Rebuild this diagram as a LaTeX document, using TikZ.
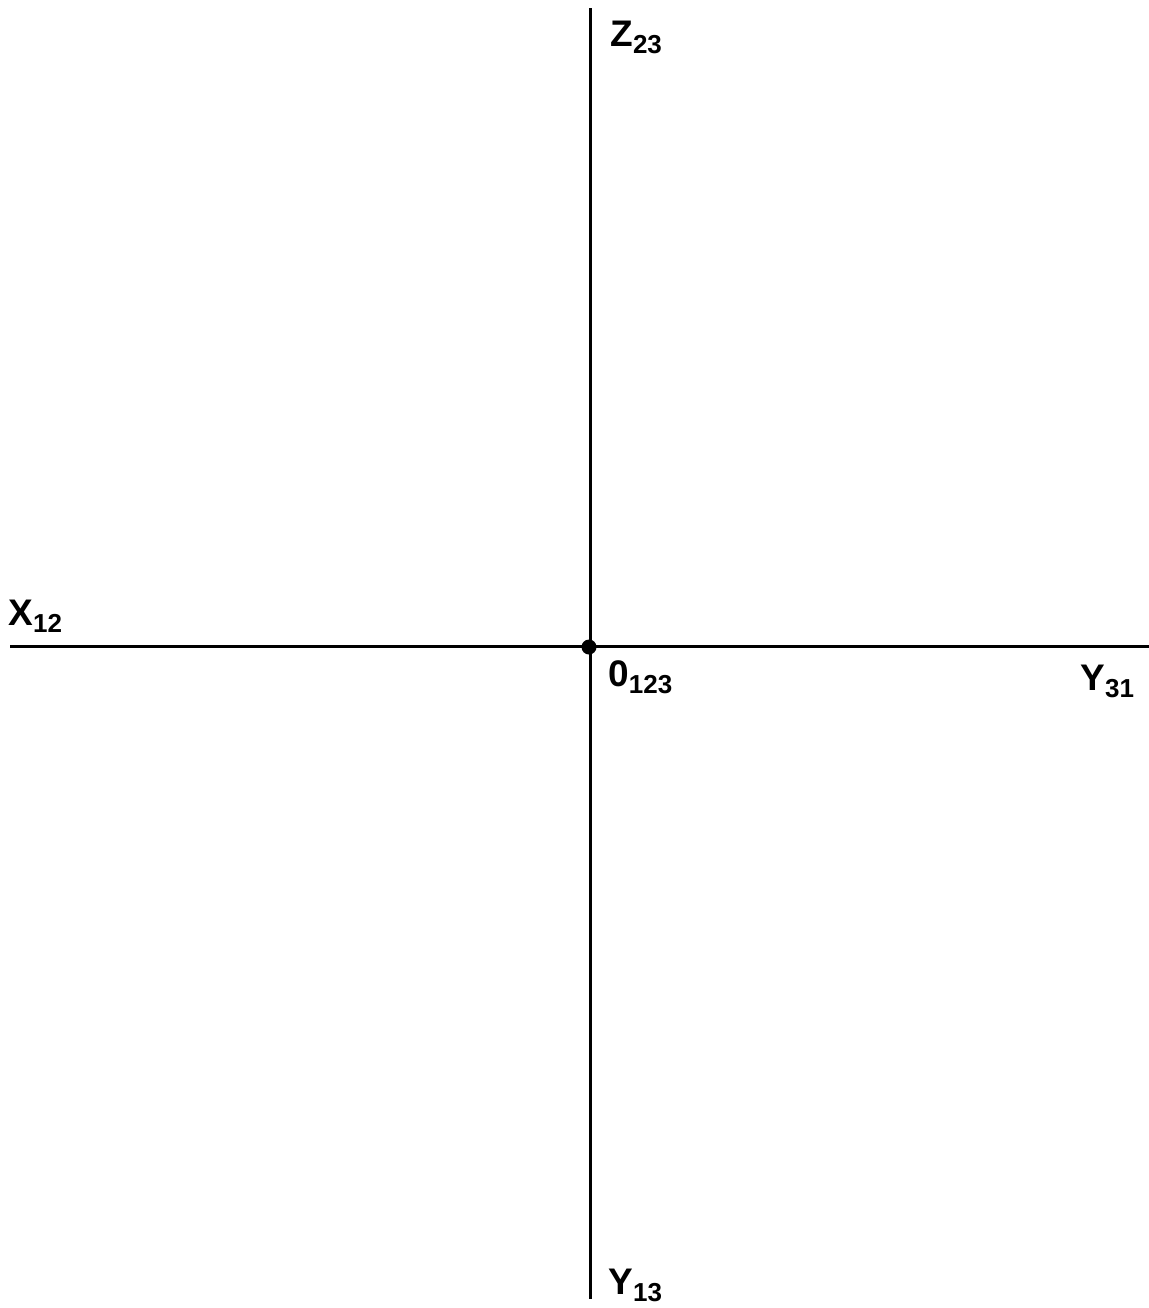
\documentclass[tikz,border=0pt]{standalone}
\usepackage{fontspec}
\setmainfont{Liberation Sans}
\usetikzlibrary{positioning}
\tikzset{
  axis/.style={line width=1.5pt,black},
  dot/.style={circle,fill=black,inner sep=0pt,minimum size=7.5pt},
  lbl/.style={anchor=base west,inner sep=0pt,font=\bfseries\fontsize{18.5}{20}\selectfont},
}
\newcommand{\ax}[2]{#1\raisebox{-0.2em}{\fontsize{13}{13}\selectfont #2}}
\begin{document}
\begin{tikzpicture}[x=0.5pt,y=-0.5pt]
  \useasboundingbox (0,0) rectangle (1149,1308);
  % axes meeting at the origin
  \coordinate (top) at (590,8);
  \coordinate (bot) at (590,1299);
  \coordinate (lft) at (10,646);
  \coordinate (rgt) at (1149,646);
  \draw[axis] (top) -- (bot);
  \draw[axis] (lft) -- (rgt);
  \node[dot] (o) at (589,647) {};
  % labels
  \node[lbl] (z23) at (610,46) {\ax{Z}{23}};
  \node[lbl] (x12) at (8,625) {\ax{X}{12}};
  \node[lbl] (o123) at (608,686) {\ax{0}{123}};
  \node[lbl] (y31) at (1080,690) {\ax{Y}{31}};
  \node[lbl] (y13) at (608,1294) {\ax{Y}{13}};
\end{tikzpicture}
\end{document}
